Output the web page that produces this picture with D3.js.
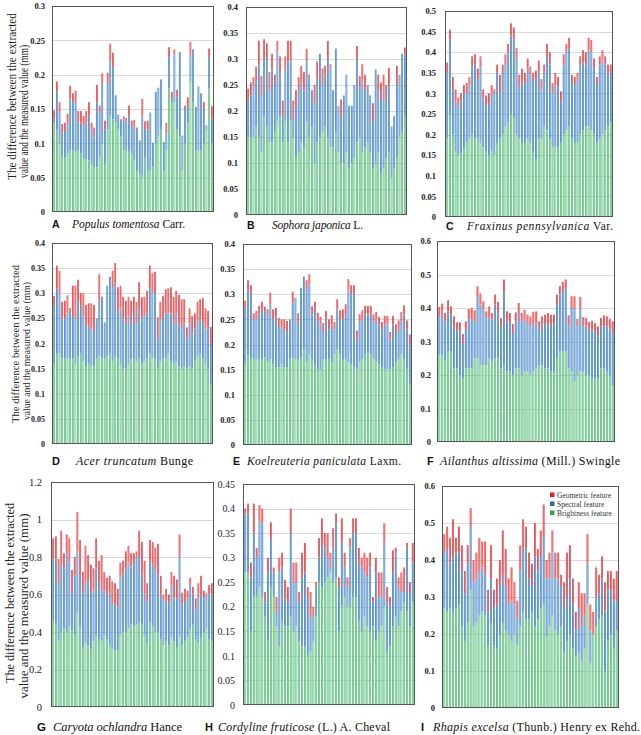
<!DOCTYPE html>
<html><head><meta charset="utf-8">
<script src="https://cdn.jsdelivr.net/npm/d3@7"></script>
<style>body{margin:0;background:#fff}svg{display:block}</style>
</head><body>
<svg id="chart" width="641" height="735"></svg>
<script>
// Cumulative stack levels (top of green, top of blue, top of red)
const aG=[0.13,0.12,0.1,0.08,0.08,0.085,0.09,0.09,0.088,0.09,0.085,0.077,0.077,0.075,0.07,0.065,0.065,0.08,0.1,0.07,0.12,0.14,0.135,0.13,0.12,0.11,0.09,0.088,0.088,0.085,0.075,0.06,0.055,0.05,0.08,0.06,0.06,0.065,0.1,0.11,0.12,0.06,0.09,0.18,0.16,0.16,0.12,0.11,0.06,0.1,0.13,0.19,0.16,0.09,0.09,0.09,0.1,0.12,0.18,0.1];
const aB=[0.135,0.175,0.145,0.115,0.118,0.128,0.165,0.16,0.16,0.132,0.13,0.125,0.13,0.14,0.12,0.11,0.16,0.145,0.188,0.12,0.188,0.22,0.21,0.17,0.142,0.132,0.135,0.133,0.14,0.125,0.126,0.12,0.104,0.14,0.12,0.12,0.145,0.101,0.175,0.181,0.193,0.102,0.115,0.225,0.165,0.23,0.168,0.233,0.111,0.15,0.153,0.228,0.237,0.153,0.183,0.173,0.15,0.126,0.225,0.135];
const aR=[0.148,0.19,0.16,0.128,0.13,0.143,0.184,0.173,0.177,0.147,0.147,0.14,0.147,0.16,0.13,0.123,0.185,0.155,0.202,0.133,0.203,0.245,0.232,0.17,0.142,0.135,0.139,0.137,0.155,0.133,0.134,0.123,0.104,0.165,0.132,0.133,0.145,0.101,0.175,0.181,0.193,0.102,0.13,0.24,0.175,0.237,0.178,0.233,0.111,0.155,0.167,0.248,0.237,0.153,0.183,0.173,0.16,0.126,0.238,0.154];

const bG=[0.15,0.15,0.15,0.17,0.15,0.12,0.19,0.17,0.14,0.14,0.16,0.18,0.19,0.14,0.18,0.14,0.18,0.15,0.11,0.12,0.14,0.13,0.18,0.15,0.17,0.1,0.14,0.15,0.16,0.17,0.15,0.13,0.13,0.16,0.12,0.1,0.1,0.12,0.09,0.1,0.11,0.14,0.15,0.12,0.13,0.14,0.12,0.09,0.1,0.12,0.08,0.09,0.11,0.12,0.07,0.09,0.11,0.15,0.16,0.19];
const bB=[0.22,0.23,0.25,0.26,0.29,0.23,0.3,0.3,0.24,0.28,0.25,0.315,0.275,0.19,0.28,0.3,0.295,0.185,0.21,0.24,0.255,0.24,0.295,0.265,0.24,0.215,0.26,0.31,0.25,0.27,0.3,0.28,0.24,0.32,0.21,0.19,0.23,0.27,0.21,0.21,0.25,0.3,0.245,0.26,0.24,0.25,0.23,0.18,0.28,0.24,0.22,0.245,0.22,0.25,0.17,0.19,0.25,0.27,0.31,0.31];
const bR=[0.243,0.255,0.265,0.285,0.335,0.268,0.338,0.33,0.275,0.31,0.27,0.335,0.305,0.22,0.305,0.335,0.335,0.22,0.24,0.265,0.287,0.275,0.32,0.27,0.24,0.25,0.295,0.31,0.282,0.287,0.335,0.29,0.24,0.32,0.21,0.222,0.23,0.27,0.21,0.21,0.25,0.325,0.267,0.29,0.27,0.25,0.23,0.215,0.28,0.27,0.255,0.27,0.25,0.283,0.17,0.19,0.287,0.27,0.31,0.322];

const cG=[0.19,0.25,0.2,0.16,0.15,0.155,0.17,0.18,0.19,0.2,0.19,0.19,0.18,0.17,0.16,0.15,0.16,0.15,0.18,0.19,0.2,0.22,0.23,0.25,0.24,0.2,0.19,0.18,0.18,0.19,0.18,0.16,0.14,0.19,0.19,0.22,0.21,0.19,0.17,0.17,0.17,0.18,0.2,0.21,0.22,0.19,0.18,0.18,0.2,0.21,0.22,0.22,0.21,0.2,0.18,0.19,0.2,0.21,0.22,0.23];
const cB=[0.35,0.43,0.31,0.28,0.265,0.28,0.3,0.3,0.32,0.365,0.37,0.335,0.365,0.29,0.27,0.275,0.3,0.3,0.35,0.3,0.35,0.37,0.4,0.44,0.43,0.385,0.315,0.33,0.325,0.36,0.345,0.33,0.335,0.35,0.31,0.35,0.39,0.37,0.3,0.32,0.315,0.28,0.37,0.4,0.41,0.33,0.32,0.335,0.37,0.375,0.37,0.405,0.4,0.36,0.325,0.37,0.38,0.37,0.35,0.35];
const cR=[0.375,0.455,0.34,0.31,0.29,0.3,0.32,0.325,0.34,0.39,0.395,0.36,0.39,0.31,0.295,0.3,0.32,0.31,0.37,0.345,0.37,0.395,0.42,0.47,0.46,0.41,0.345,0.36,0.35,0.385,0.365,0.35,0.355,0.38,0.335,0.37,0.42,0.4,0.325,0.35,0.34,0.305,0.395,0.42,0.435,0.345,0.34,0.35,0.39,0.405,0.4,0.435,0.43,0.385,0.34,0.39,0.405,0.39,0.37,0.37];

const dG=[0.16,0.18,0.18,0.17,0.17,0.17,0.17,0.17,0.16,0.175,0.18,0.165,0.155,0.16,0.155,0.155,0.17,0.175,0.17,0.17,0.175,0.18,0.165,0.175,0.17,0.16,0.15,0.15,0.16,0.17,0.17,0.165,0.17,0.16,0.165,0.17,0.18,0.17,0.17,0.15,0.165,0.17,0.17,0.18,0.165,0.16,0.165,0.155,0.15,0.155,0.15,0.155,0.15,0.165,0.175,0.18,0.17,0.16,0.15,0.12];
const dB=[0.275,0.31,0.3,0.25,0.25,0.26,0.265,0.255,0.25,0.285,0.275,0.255,0.235,0.235,0.23,0.225,0.25,0.283,0.293,0.242,0.315,0.333,0.31,0.32,0.265,0.27,0.25,0.24,0.255,0.24,0.26,0.24,0.27,0.25,0.255,0.26,0.31,0.3,0.3,0.21,0.245,0.25,0.26,0.26,0.26,0.24,0.26,0.24,0.23,0.24,0.21,0.24,0.22,0.23,0.245,0.25,0.24,0.23,0.23,0.2];
const dR=[0.295,0.355,0.345,0.283,0.285,0.296,0.27,0.315,0.315,0.327,0.3,0.3,0.277,0.28,0.28,0.277,0.25,0.338,0.293,0.242,0.315,0.333,0.345,0.36,0.312,0.315,0.293,0.285,0.293,0.285,0.293,0.283,0.322,0.292,0.293,0.305,0.355,0.34,0.343,0.252,0.283,0.295,0.308,0.31,0.312,0.293,0.305,0.297,0.288,0.288,0.232,0.27,0.255,0.26,0.283,0.288,0.29,0.27,0.265,0.233];

const eG=[0.16,0.18,0.175,0.17,0.17,0.17,0.17,0.175,0.165,0.17,0.16,0.155,0.155,0.16,0.155,0.155,0.17,0.175,0.17,0.17,0.175,0.19,0.165,0.18,0.17,0.16,0.15,0.15,0.17,0.17,0.17,0.165,0.18,0.19,0.18,0.17,0.17,0.165,0.16,0.155,0.15,0.165,0.17,0.18,0.185,0.18,0.17,0.165,0.16,0.155,0.15,0.15,0.15,0.155,0.165,0.17,0.18,0.17,0.15,0.12];
const eB=[0.275,0.31,0.3,0.25,0.25,0.26,0.27,0.265,0.26,0.28,0.25,0.255,0.235,0.235,0.23,0.225,0.25,0.283,0.293,0.24,0.313,0.335,0.31,0.32,0.26,0.27,0.25,0.24,0.225,0.25,0.23,0.24,0.23,0.27,0.25,0.25,0.26,0.31,0.3,0.3,0.21,0.245,0.25,0.26,0.26,0.26,0.245,0.25,0.24,0.23,0.24,0.24,0.21,0.24,0.225,0.23,0.245,0.26,0.23,0.2];
const eR=[0.287,0.328,0.318,0.262,0.267,0.277,0.285,0.275,0.27,0.303,0.27,0.273,0.253,0.25,0.25,0.247,0.25,0.305,0.293,0.262,0.313,0.335,0.328,0.34,0.276,0.285,0.263,0.255,0.243,0.267,0.25,0.258,0.245,0.29,0.268,0.27,0.28,0.33,0.318,0.318,0.228,0.26,0.268,0.277,0.277,0.277,0.26,0.265,0.255,0.245,0.257,0.257,0.225,0.257,0.24,0.248,0.265,0.278,0.248,0.22];

const fG=[0.26,0.26,0.24,0.27,0.27,0.22,0.22,0.2,0.19,0.22,0.22,0.22,0.25,0.25,0.23,0.23,0.23,0.25,0.24,0.25,0.25,0.22,0.23,0.21,0.21,0.2,0.22,0.22,0.2,0.21,0.21,0.2,0.21,0.22,0.23,0.23,0.22,0.22,0.21,0.21,0.25,0.27,0.27,0.27,0.22,0.21,0.18,0.2,0.21,0.21,0.2,0.2,0.19,0.19,0.19,0.22,0.22,0.21,0.2,0.17];
const fB=[0.372,0.39,0.36,0.39,0.38,0.345,0.335,0.33,0.295,0.335,0.37,0.365,0.36,0.435,0.41,0.395,0.37,0.375,0.365,0.41,0.385,0.345,0.45,0.36,0.355,0.325,0.36,0.385,0.36,0.365,0.355,0.345,0.355,0.355,0.335,0.35,0.355,0.35,0.35,0.35,0.41,0.44,0.45,0.46,0.345,0.4,0.4,0.345,0.4,0.345,0.345,0.335,0.335,0.33,0.315,0.345,0.345,0.345,0.34,0.325];
const fR=[0.403,0.413,0.385,0.423,0.405,0.375,0.357,0.357,0.323,0.36,0.397,0.4,0.393,0.465,0.443,0.42,0.39,0.405,0.385,0.44,0.418,0.37,0.485,0.39,0.385,0.352,0.387,0.415,0.385,0.395,0.38,0.375,0.388,0.39,0.36,0.375,0.38,0.385,0.38,0.38,0.44,0.465,0.478,0.485,0.378,0.435,0.435,0.368,0.433,0.373,0.37,0.358,0.362,0.355,0.345,0.37,0.378,0.375,0.368,0.36];

const gG=[0.46,0.45,0.35,0.4,0.42,0.4,0.43,0.41,0.38,0.5,0.43,0.32,0.34,0.33,0.31,0.35,0.38,0.36,0.35,0.38,0.36,0.33,0.31,0.3,0.3,0.38,0.4,0.4,0.42,0.44,0.43,0.44,0.45,0.44,0.38,0.34,0.45,0.43,0.4,0.4,0.36,0.33,0.35,0.33,0.37,0.35,0.32,0.38,0.33,0.35,0.37,0.42,0.44,0.36,0.34,0.37,0.4,0.42,0.36,0.35];
const gB=[0.79,0.79,0.66,0.76,0.74,0.82,0.77,0.61,0.7,0.83,0.7,0.61,0.66,0.68,0.61,0.62,0.74,0.67,0.62,0.62,0.6,0.61,0.55,0.55,0.53,0.69,0.71,0.74,0.77,0.75,0.76,0.8,0.8,0.71,0.6,0.56,0.78,0.76,0.73,0.7,0.6,0.57,0.57,0.55,0.65,0.58,0.58,0.8,0.55,0.56,0.58,0.65,0.6,0.52,0.58,0.6,0.58,0.6,0.6,0.6];
const gR=[0.9,0.91,0.79,0.94,0.82,0.92,0.9,0.73,0.8,1.04,0.89,0.72,0.86,0.81,0.76,0.74,0.9,0.78,0.81,0.72,0.69,0.7,0.67,0.66,0.63,0.77,0.78,0.83,0.86,0.82,0.82,0.83,0.94,0.88,0.78,0.66,0.89,0.88,0.85,0.87,0.7,0.6,0.63,0.6,0.72,0.7,0.68,0.92,0.61,0.63,0.62,0.69,0.64,0.58,0.66,0.7,0.62,0.61,0.65,0.66];

const hG=[0.27,0.27,0.15,0.22,0.22,0.24,0.22,0.18,0.13,0.24,0.22,0.16,0.12,0.17,0.16,0.16,0.18,0.15,0.16,0.13,0.12,0.12,0.1,0.11,0.13,0.18,0.25,0.24,0.25,0.26,0.27,0.25,0.26,0.15,0.2,0.22,0.2,0.2,0.22,0.22,0.17,0.15,0.18,0.16,0.15,0.16,0.13,0.15,0.16,0.2,0.11,0.12,0.16,0.18,0.16,0.19,0.21,0.19,0.16,0.21];
const hB=[0.39,0.39,0.26,0.35,0.3,0.375,0.37,0.21,0.27,0.34,0.27,0.19,0.27,0.28,0.215,0.21,0.35,0.25,0.25,0.21,0.26,0.27,0.22,0.18,0.18,0.24,0.3,0.33,0.32,0.3,0.28,0.32,0.37,0.24,0.33,0.28,0.24,0.32,0.35,0.35,0.29,0.28,0.27,0.26,0.28,0.21,0.27,0.22,0.22,0.33,0.21,0.2,0.27,0.31,0.24,0.23,0.23,0.32,0.23,0.29];
const hR=[0.4,0.41,0.29,0.41,0.32,0.407,0.4,0.23,0.3,0.372,0.28,0.22,0.3,0.31,0.255,0.24,0.4,0.29,0.29,0.23,0.31,0.33,0.24,0.23,0.2,0.25,0.34,0.38,0.35,0.35,0.31,0.36,0.39,0.26,0.38,0.31,0.26,0.34,0.38,0.38,0.32,0.3,0.31,0.3,0.31,0.22,0.3,0.27,0.27,0.37,0.24,0.22,0.315,0.32,0.26,0.27,0.28,0.33,0.25,0.33];

const iG=[0.27,0.26,0.27,0.26,0.27,0.28,0.22,0.18,0.23,0.32,0.22,0.23,0.25,0.26,0.25,0.17,0.23,0.17,0.16,0.2,0.23,0.21,0.2,0.18,0.2,0.17,0.22,0.26,0.24,0.24,0.26,0.22,0.24,0.27,0.28,0.19,0.22,0.25,0.21,0.2,0.22,0.15,0.18,0.2,0.16,0.14,0.15,0.13,0.16,0.28,0.12,0.2,0.22,0.24,0.25,0.1,0.18,0.2,0.16,0.21];
const iB=[0.42,0.43,0.39,0.41,0.42,0.42,0.37,0.31,0.39,0.49,0.34,0.35,0.37,0.38,0.36,0.26,0.35,0.27,0.28,0.33,0.36,0.33,0.28,0.29,0.28,0.24,0.37,0.43,0.43,0.35,0.33,0.41,0.37,0.41,0.46,0.35,0.35,0.42,0.35,0.35,0.33,0.27,0.3,0.35,0.28,0.21,0.27,0.22,0.25,0.39,0.21,0.2,0.3,0.31,0.35,0.26,0.32,0.32,0.29,0.29];
const iR=[0.47,0.49,0.46,0.51,0.46,0.49,0.44,0.37,0.44,0.54,0.4,0.42,0.46,0.45,0.45,0.32,0.44,0.32,0.35,0.4,0.48,0.43,0.35,0.38,0.34,0.29,0.44,0.51,0.49,0.42,0.39,0.5,0.43,0.48,0.55,0.4,0.42,0.48,0.42,0.42,0.36,0.34,0.42,0.44,0.35,0.26,0.34,0.31,0.31,0.47,0.28,0.26,0.38,0.36,0.41,0.34,0.37,0.37,0.35,0.37];

const seriesNames=["Geometric feature","Spectral feature","Brightness feature"];
const letters=["A","B","C","D","E","F","G","H","I"];
const speciesItalic=["Populus tomentosa","Sophora japonica","Fraxinus pennsylvanica","Acer truncatum","Koelreuteria paniculata","Ailanthus altissima","Caryota ochlandra","Cordyline fruticose","Rhapis excelsa"];
const speciesAuthor=[" Carr."," L."," Var."," Bunge"," Laxm."," (Mill.) Swingle"," Hance"," (L.) A. Cheval"," (Thunb.) Henry ex Rehd."];
const yMax=[0.3,0.4,0.5,0.4,0.4,0.6,1.2,0.45,0.6];
const yStep=[0.05,0.05,0.05,0.05,0.05,0.1,0.2,0.05,0.1];
const titleLines=["The difference between the extracted","value and the measured value (mm)"];

const data=[[aG,aB,aR],[bG,bB,bR],[cG,cB,cR],[dG,dB,dR],[eG,eB,eR],[fG,fB,fR],[gG,gB,gR],[hG,hB,hR],[iG,iB,iR]];

// layout
const layout=[
 {x0:52,x1:214,y0:6,y1:212, gap:7, tf:"bold 8.5px", cap:{lx:52,tx:72,y:228,w:113,fs:11.5}},
 {x0:246,x1:407,y0:7,y1:215, gap:8, tf:"bold 8.5px", cap:{lx:247,tx:272,y:229,w:91,fs:11.5}},
 {x0:445,x1:613,y0:11,y1:217, gap:9, tf:"bold 8.5px", cap:{lx:446,tx:467,y:230,w:146,fs:11.5}},
 {x0:52,x1:213,y0:243,y1:444, gap:7, tf:"bold 8px", cap:{lx:52,tx:76,y:465,w:117,fs:12}},
 {x0:243,x1:412,y0:244,y1:445, gap:8, tf:"bold 8.5px", cap:{lx:233,tx:247,y:465,w:154,fs:11.5}},
 {x0:437,x1:615,y0:241,y1:442, gap:6, tf:"bold 8.5px", cap:{lx:427,tx:440,y:465,w:180,fs:12}},
 {x0:51,x1:214,y0:482,y1:707, gap:9, tf:"10.5px", cap:{lx:37,tx:53,y:731,w:129,fs:12.5}},
 {x0:243,x1:415,y0:484,y1:705, gap:8, tf:"10px", cap:{lx:205,tx:218,y:731,w:172,fs:12}},
 {x0:442,x1:619,y0:486,y1:708, gap:7, tf:"bold 8.5px", cap:{lx:421,tx:433,y:731,w:207,fs:12}}
];
const titles=[
 {lines:[{x:16,cy:96.5,len:167},{x:27.5,cy:111.5,len:133}], fs:11.5},
 {lines:[{x:19,cy:344,len:158},{x:29.5,cy:351,len:138}], fs:10},
 {lines:[{x:14,cy:593,len:180},{x:27.5,cy:606,len:185}], fs:12.5}
];

const svg=d3.select("#chart");
const defs=svg.append("defs");
const colors={g:["#2ea658","#a9e6bd"],b:["#2a68b0","#80bbea"],r:["#e0252a","#f4797b"]};
Object.entries(colors).forEach(([k,[dk,lt]])=>{
  const lg=defs.append("linearGradient").attr("id","grad-"+k).attr("x1","0").attr("x2","1").attr("y1","0").attr("y2","0");
  lg.append("stop").attr("offset","0%").attr("stop-color",dk);
  lg.append("stop").attr("offset","55%").attr("stop-color",lt);
  lg.append("stop").attr("offset","100%").attr("stop-color",dk);
});
const serif="'Liberation Serif','Times New Roman',serif";
const sans="'Liberation Sans',Arial,sans-serif";

data.forEach((arrs,pi)=>{
  const L=layout[pi];
  const [G,B,R]=arrs;
  const n=Math.min(G.length,B.length,R.length);
  const idx=d3.range(n);
  const x=d3.scaleBand().domain(idx).range([L.x0+1,L.x1-1]).paddingInner(0.4).paddingOuter(0.15);
  const y=d3.scaleLinear().domain([0,yMax[pi]]).range([L.y1,L.y0]);
  const ticks=d3.range(0,yMax[pi]+yStep[pi]/2,yStep[pi]).map(v=>+v.toFixed(3));
  const g=svg.append("g");
  // gridlines
  g.selectAll("line.grid").data(ticks.filter(t=>t>0)).join("line")
   .attr("x1",L.x0).attr("x2",L.x1).attr("y1",d=>Math.round(y(d))+0.5).attr("y2",d=>Math.round(y(d))+0.5)
   .attr("stroke","#d9d9d9").attr("stroke-width",1);
  // bars
  const segs=[];
  idx.forEach(i=>{
    const gv=G[i], bv=Math.max(G[i],B[i]), rv=Math.max(bv,R[i]);
    segs.push({i,lo:0,hi:gv,k:"g"});
    if(bv>gv) segs.push({i,lo:gv,hi:bv,k:"b"});
    if(rv>bv) segs.push({i,lo:bv,hi:rv,k:"r"});
  });
  g.selectAll("rect.bar").data(segs).join("rect")
   .attr("x",d=>x(d.i)).attr("width",x.bandwidth())
   .attr("y",d=>y(d.hi)).attr("height",d=>y(d.lo)-y(d.hi))
   .attr("fill",d=>"url(#grad-"+d.k+")");
  // frame
  g.append("rect").attr("x",L.x0+0.5).attr("y",L.y0+0.5).attr("width",L.x1-L.x0-1).attr("height",L.y1-L.y0-1)
   .attr("fill","none").attr("stroke","#555").attr("stroke-width",1);
  // y axis tick labels via d3 axis
  const ax=d3.axisLeft(y).tickValues(ticks).tickSize(0).tickPadding(L.gap).tickFormat(d=>String(+d.toFixed(3)));
  const axg=g.append("g").attr("transform",`translate(${L.x0},0)`).call(ax);
  axg.select(".domain").remove();
  axg.selectAll("text").style("font",L.tf+" "+serif).attr("fill","#222");
  // caption
  const c=L.cap;
  g.append("text").attr("x",c.lx).attr("y",c.y).attr("font-family",sans).attr("font-weight","bold")
   .attr("font-size",c.fs-1).attr("fill","#111").text(letters[pi]);
  const t=g.append("text").attr("x",c.tx).attr("y",c.y).attr("font-family",serif).attr("font-size",c.fs)
   .attr("fill","#111").attr("textLength",c.w).attr("lengthAdjust","spacing");
  t.append("tspan").attr("font-style","italic").text(speciesItalic[pi]);
  t.append("tspan").text(speciesAuthor[pi]);
});

// y-axis titles
titles.forEach(T=>{
  T.lines.forEach((ln,li)=>{
    svg.append("text").attr("transform",`translate(${ln.x},${ln.cy}) rotate(-90)`)
     .attr("text-anchor","middle").attr("font-family",serif).attr("font-size",T.fs)
     .attr("fill","#222").attr("textLength",ln.len).attr("lengthAdjust","spacingAndGlyphs")
     .text(titleLines[li]);
  });
});

// legend in panel I
const legColors=["#e0252a","#2a68b0","#2ea658"];
const lg=svg.append("g");
seriesNames.forEach((s,i)=>{
  lg.append("rect").attr("x",550).attr("y",492.5+i*9).attr("width",4.5).attr("height",4.5).attr("fill",legColors[i]);
  lg.append("text").attr("x",557).attr("y",497.5+i*9).attr("font-family",serif).attr("font-size",7.5)
    .attr("fill","#333").text(s);
});
</script>
</body></html>
